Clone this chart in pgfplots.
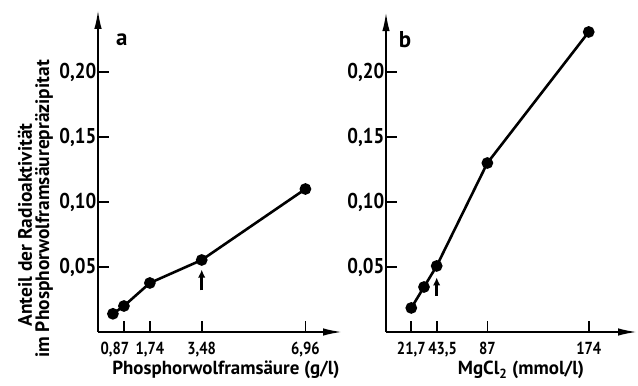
\documentclass[border=0pt]{standalone}
\usepackage{fontspec}
\setmainfont{PT Sans}[FakeStretch=0.88]
\newfontfamily\labfont{PT Sans}
\newfontfamily\tickfont{PT Sans}[FakeStretch=0.84]
\usepackage{pgfplots}
\pgfplotsset{compat=1.18}
\usetikzlibrary{arrows.meta}

\begin{document}
\begin{tikzpicture}[x=1bp,y=1bp]
\path[use as bounding box] (0bp,0bp) rectangle (638bp,386bp);
\pgfplotsset{
  myax/.style={
    axis lines=left,
    clip=false,
    enlargelimits=false,
    axis line style={line width=1.9bp},
    x axis line style={-{Latex[length=19bp,width=7.5bp]}},
    y axis line style={-{Latex[length=19bp,width=7.5bp]}},
    tick align=inside,
    major tick length=11bp,
    every tick/.style={black,line width=1.7bp},
    ymin=0,
    y=1300bp,
    ytick={0.05,0.1,0.15,0.2},
    yticklabels={{0,05},{0,10},{0,15},{0,20}},
    yticklabel style={font=\bfseries\fontsize{21.5}{24}\selectfont, inner sep=1.5bp, anchor=east},
    xticklabel style={font=\tickfont\bfseries\fontsize{17.5}{20}\selectfont, inner sep=0pt, anchor=north, yshift=-10bp},
  },
  dat/.style={black, line width=2.6bp, mark=*, mark size=4.5bp, mark options={solid, fill=black}},
}
% panel a
\begin{axis}[myax, anchor=origin, at={(98bp,54bp)}, x=29.8bp, xmin=0, xmax=8.19, ymax=0.2477,
  xtick={0.87,1.74,3.48,6.96},
  xticklabels={{\hspace*{-18bp}0,87},{1,74},{3,48},{6,96}}]
\addplot[dat] coordinates {(0.5,0.014) (0.87,0.020) (1.74,0.0377) (3.48,0.0554) (6.96,0.110)};
\draw[line width=2.8bp, -{Latex[length=8bp,width=7.5bp]}] (axis cs:3.48,0.032) -- (axis cs:3.48,0.048);
\node[font=\labfont\bfseries\fontsize{23}{24}\selectfont] at (axis cs:0.8,0.2246) {a};
\end{axis}
% panel b
\begin{axis}[myax, anchor=origin, at={(386bp,54bp)}, x=1.165bp, xmin=0, xmax=215.5, ymax=0.246,
  xtick={21.7,43.5,87,174},
  xticklabels={{21,7},{43,5\hspace*{-12bp}},{87},{174}}]
\addplot[dat] coordinates {(21.7,0.0185) (32.6,0.0346) (43.5,0.0508) (87,0.130) (174,0.2308)};
\draw[line width=2.8bp, -{Latex[length=8bp,width=7.5bp]}] (axis cs:43.5,0.0277) -- (axis cs:43.5,0.042);
\node[font=\labfont\bfseries\fontsize{23}{24}\selectfont] at (axis cs:16.3,0.2246) {b};
\end{axis}
% axis titles
\node[font=\labfont\bfseries\fontsize{19}{20}\selectfont] at (226bp,16bp) {Phosphorwolframsäure (g/l)};
\node[font=\labfont\bfseries\fontsize{19}{20}\selectfont] at (521bp,16bp) {MgCl\textsubscript{2} (mmol/l)};
\node[rotate=90, font=\labfont\bfseries\fontsize{19.5}{20}\selectfont] at (25bp,161bp) {Anteil der Radioaktivität};
\node[rotate=90, font=\labfont\bfseries\fontsize{19.5}{20}\selectfont] at (44bp,177bp) {im Phosphorwolframsäurepräzipitat};
\end{tikzpicture}
\end{document}
